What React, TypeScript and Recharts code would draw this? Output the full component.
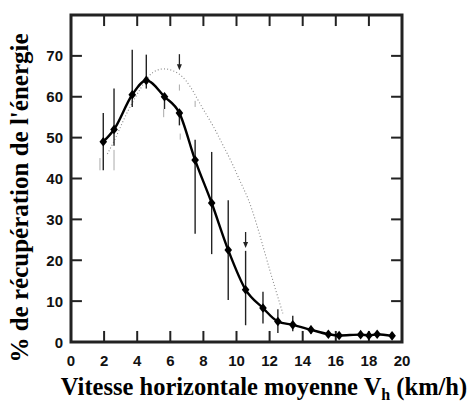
import React from "react";
import { ComposedChart, Line, Scatter, ErrorBar, XAxis, YAxis, ReferenceArea, ReferenceLine } from "recharts";

// Energy recovery (%) vs mean horizontal speed (km/h)
const speeds = [1.95, 2.6, 3.7, 4.55, 5.65, 6.55, 7.5, 8.5, 9.5, 10.55, 11.6, 12.5, 13.4, 14.5, 15.55, 16.2, 17.5, 18.0, 18.5, 19.4];
const recovery = [49, 52, 60.5, 64, 60, 56, 44.5, 34, 22.5, 12.8, 8.3, 5, 4.2, 3, 1.9, 1.6, 1.8, 1.6, 1.9, 1.5];
const errLow = [7, 4, 3, 2, 3, 3, 18, 12.5, 12.2, 8.7, 3.8, 2.8, 1.6, 1, 0.5, 0.4, 0.4, 0.4, 0.5, 0.4];
const errHigh = [7, 10, 11, 6.3, 0, 0, 5, 12.5, 12.2, 9.5, 4, 3, 2.2, 1, 0.5, 0.4, 0.4, 0.4, 0.5, 0.4];

// second (dotted) curve
const dotSpeeds = [2.2, 2.7, 3.2, 3.7, 4.2, 4.7, 5.2, 5.7, 6.2, 6.7, 7.2, 7.7, 8.2, 8.7, 9.2, 9.7, 10.2, 10.7, 11.2, 11.7, 12.2, 12.8];
const dotRecovery = [46, 50, 54.5, 58.5, 62, 65, 66.5, 66.8, 66.3, 65, 62.5, 59, 55.5, 52, 48, 44, 39.5, 35, 29, 22, 15, 7];

// faint uncertainty marks on the dotted curve: [speed, low, high]
const greyMarks: [number, number, number][] = [
  [1.75, 42, 45],
  [2.6, 42, 47],
  [5.6, 55, 57],
  [6.55, 61.5, 63],
  [6.6, 49.5, 51],
  [7.5, 57.5, 59],
];

// down arrows (tip positions)
const arrowSpeeds = [6.55, 10.55];
const arrowTips = [66.5, 23];

const xTicks = [0, 2, 4, 6, 8, 10, 12, 14, 16, 18, 20];
const yTicks = [0, 10, 20, 30, 40, 50, 60, 70];
const X_MIN = 0;
const X_MAX = 20;
const Y_MIN = 0;
const Y_MAX = 80;
// inward tick length in axis units (~11px)
const TICK_DX = 0.66;
const TICK_DY = 2.7;

const mainData = speeds.map((x, i) => ({ x, y: recovery[i], err: [errLow[i], errHigh[i]] }));
const dotData = dotSpeeds.map((x, i) => ({ x, y: dotRecovery[i] }));
const greyData = greyMarks.map(([x, lo, hi]) => ({ x, y: (lo + hi) / 2, err: (hi - lo) / 2 }));
const arrowData = arrowSpeeds.map((x, i) => ({ x, y: arrowTips[i] }));

const tickFamily = "'Liberation Sans', Arial, sans-serif";
const titleFamily = "'Liberation Serif', 'Times New Roman', serif";
const INK = "#222";

function BottomLabel({ x, y, payload }: any) {
  return (
    <text x={x} y={y + 24} textAnchor="middle" style={{ fontFamily: tickFamily, fontSize: 15, fontWeight: 700 }} fill="#111">
      {payload.value}
    </text>
  );
}

function LeftLabel({ x, y, payload }: any) {
  return (
    <text x={x - 8} y={y + 5.5} textAnchor="end" style={{ fontFamily: tickFamily, fontSize: 15, fontWeight: 700 }} fill="#111">
      {payload.value}
    </text>
  );
}

function Diamond({ cx, cy }: any) {
  if (cx == null || cy == null) return null;
  return <polygon points={`${cx},${cy - 4.8} ${cx + 3.8},${cy} ${cx},${cy + 4.8} ${cx - 3.8},${cy}`} fill="#000" />;
}

function DownArrow({ cx, cy }: any) {
  if (cx == null || cy == null) return null;
  return (
    <g>
      <path d={`M${cx},${cy - 16}V${cy - 3}`} stroke="#222" strokeWidth={1.3} />
      <polygon points={`${cx - 2.5},${cy - 6} ${cx + 2.5},${cy - 6} ${cx},${cy}`} fill="#222" />
    </g>
  );
}

function Nothing() {
  return <g />;
}

function YTitle() {
  return (
    <text
      transform="translate(28,198) rotate(-90)"
      textAnchor="middle"
      style={{ fontFamily: titleFamily, fontWeight: 700, fontSize: 25 }}
      fill="#000"
    >
      % de récupération de l'énergie
    </text>
  );
}

function XTitle() {
  return (
    <text x={264} y={395} textAnchor="middle" style={{ fontFamily: titleFamily, fontWeight: 700, fontSize: 24.5 }} fill="#000">
      Vitesse horizontale moyenne V
      <tspan style={{ fontSize: 16 }} dy={5}>h</tspan>
      <tspan dy={-5}> (km/h)</tspan>
    </text>
  );
}

export default function App() {
  return (
    <div style={{ position: "absolute", left: 0, top: 0, width: 474, height: 403, background: "#fff" }}>
      <ComposedChart width={474} height={403} margin={{ top: 15, right: 72, bottom: 0, left: 0 }}>
        <XAxis
          xAxisId="bottom"
          dataKey="x"
          type="number"
          domain={[X_MIN, X_MAX]}
          ticks={xTicks}
          height={61}
          axisLine={false}
          tickLine={false}
          tickSize={0}
          tickMargin={0}
          tick={<BottomLabel />}
          label={{ content: <XTitle /> }}
        />
        <YAxis
          yAxisId="left"
          type="number"
          domain={[Y_MIN, Y_MAX]}
          ticks={yTicks}
          width={71}
          axisLine={false}
          tickLine={false}
          tickSize={0}
          tickMargin={0}
          tick={<LeftLabel />}
          label={{ content: <YTitle /> }}
        />

        {/* plot frame */}
        <ReferenceArea
          xAxisId="bottom"
          yAxisId="left"
          x1={X_MIN}
          x2={X_MAX}
          y1={Y_MIN}
          y2={Y_MAX}
          fill="none"
          stroke={INK}
          strokeWidth={3}
          ifOverflow="visible"
        />

        {/* inward ticks on all four sides */}
        {xTicks.map((t) => (
          <ReferenceLine key={`b${t}`} xAxisId="bottom" yAxisId="left" segment={[{ x: t, y: Y_MIN }, { x: t, y: Y_MIN + TICK_DY }]} stroke={INK} strokeWidth={2} ifOverflow="visible" />
        ))}
        {xTicks.map((t) => (
          <ReferenceLine key={`t${t}`} xAxisId="bottom" yAxisId="left" segment={[{ x: t, y: Y_MAX }, { x: t, y: Y_MAX - TICK_DY }]} stroke={INK} strokeWidth={2} ifOverflow="visible" />
        ))}
        {yTicks.map((t) => (
          <ReferenceLine key={`l${t}`} xAxisId="bottom" yAxisId="left" segment={[{ x: X_MIN, y: t }, { x: X_MIN + TICK_DX, y: t }]} stroke={INK} strokeWidth={2} ifOverflow="visible" />
        ))}
        {yTicks.map((t) => (
          <ReferenceLine key={`r${t}`} xAxisId="bottom" yAxisId="left" segment={[{ x: X_MAX, y: t }, { x: X_MAX - TICK_DX, y: t }]} stroke={INK} strokeWidth={2} ifOverflow="visible" />
        ))}

        <Line
          xAxisId="bottom"
          yAxisId="left"
          data={dotData}
          dataKey="y"
          type="natural"
          stroke="#888"
          strokeWidth={1.1}
          strokeDasharray="1 2.2"
          dot={false}
          isAnimationActive={false}
        />
        <Scatter xAxisId="bottom" yAxisId="left" data={greyData} dataKey="y" shape={<Nothing />} isAnimationActive={false}>
          <ErrorBar dataKey="err" direction="y" width={0} stroke="#aaa" strokeWidth={1} />
        </Scatter>

        <Line
          xAxisId="bottom"
          yAxisId="left"
          data={mainData}
          dataKey="y"
          type="monotone"
          stroke="#000"
          strokeWidth={2.4}
          dot={false}
          isAnimationActive={false}
        />
        <Scatter xAxisId="bottom" yAxisId="left" data={mainData} dataKey="y" shape={<Diamond />} isAnimationActive={false}>
          <ErrorBar dataKey="err" direction="y" width={0} stroke="#222" strokeWidth={1.4} />
        </Scatter>

        <Scatter xAxisId="bottom" yAxisId="left" data={arrowData} dataKey="y" shape={<DownArrow />} isAnimationActive={false} />
      </ComposedChart>
    </div>
  );
}
